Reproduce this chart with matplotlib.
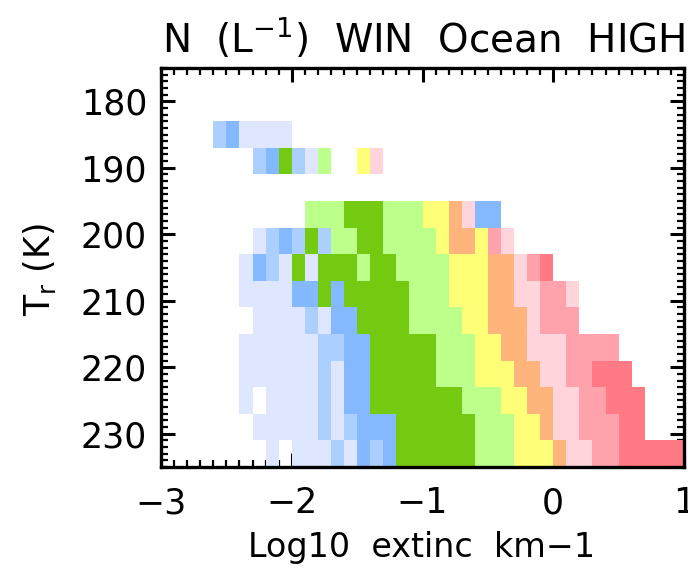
import numpy as np
import matplotlib.pyplot as plt
from matplotlib.colors import ListedColormap, BoundaryNorm
from matplotlib.ticker import MultipleLocator

plt.rcParams['font.family'] = 'DejaVu Sans'

# bin edges: log10 extinction (0.1 wide) and temperature (4 K wide)
x_edges = np.round(np.arange(-2.7, 1.0001, 0.1), 2)
t_edges = [183, 187, 191, 195, 199, 203, 207, 211, 215, 219, 223, 227, 231, 235]

# concentration class of each cell, counted from x = -2.7 (0 = no samples)
n_185 = [0, 2, 3, 1, 1, 1, 1]
n_189 = [0, 0, 0, 0, 2, 3, 4, 2, 1, 5, 0, 0, 6, 8]
n_193 = []
n_197 = [0, 0, 0, 0, 0, 0, 0, 0, 5, 5, 5, 4, 4, 4, 5, 5, 5, 6, 6, 7, 8, 3, 3]
n_201 = [0, 0, 0, 0, 1, 2, 3, 2, 4, 2, 5, 5, 4, 4, 5, 5, 5, 5, 6, 7, 7, 6, 9, 8]
n_205 = [0, 0, 0, 1, 3, 2, 1, 4, 1, 4, 4, 4, 5, 4, 4, 5, 5, 5, 5, 6, 6, 6, 7, 7,
         8, 9, 10]
n_209 = [0, 0, 0, 1, 1, 1, 1, 3, 3, 4, 3, 4, 4, 4, 4, 4, 5, 5, 5, 6, 6, 6, 7, 7,
         8, 8, 9, 9, 8]
n_213 = [0, 0, 0, 0, 1, 1, 1, 1, 2, 1, 3, 3, 4, 4, 4, 4, 5, 5, 5, 5, 6, 6, 7, 7,
         7, 8, 9, 9, 9]
n_217 = [0, 0, 0, 1, 1, 1, 1, 1, 1, 2, 2, 3, 3, 4, 4, 4, 4, 4, 5, 5, 5, 6, 6, 7,
         7, 8, 8, 8, 9, 9, 9, 9]
n_221 = [0, 0, 0, 1, 1, 1, 1, 1, 1, 2, 1, 3, 3, 4, 4, 4, 4, 4, 5, 5, 5, 6, 6, 6,
         7, 7, 8, 8, 9, 9, 10, 10, 10]
n_225 = [0, 0, 0, 1, 0, 1, 1, 1, 1, 2, 1, 3, 3, 4, 4, 4, 4, 4, 4, 4, 5, 5, 5, 6,
         6, 7, 7, 8, 8, 9, 9, 10, 10, 10]
n_229 = [0, 0, 0, 0, 1, 1, 1, 1, 1, 2, 1, 2, 3, 3, 3, 4, 4, 4, 4, 4, 4, 5, 5, 5,
         6, 6, 7, 8, 8, 9, 9, 9, 10, 10]
n_233 = [0, 0, 0, 0, 0, 1, 0, 1, 1, 1, 2, 1, 3, 2, 3, 4, 4, 4, 4, 4, 4, 5, 5, 5,
         6, 6, 6, 7, 8, 8, 9, 9, 10, 10, 10, 10, 10]

rows = [n_185, n_189, n_193, n_197, n_201, n_205, n_209, n_213, n_217,
        n_221, n_225, n_229, n_233]

level_colors = ['#dfe6ff', '#abcfff', '#85b9ff', '#74ca10', '#bcff8a',
                '#ffff78', '#ffb47c', '#ffd4da', '#ffa2ab', '#ff7a84']

ncol = len(x_edges) - 1
grid = np.zeros((len(rows), ncol))
for i, r in enumerate(rows):
    grid[i, :len(r)] = r
grid = np.ma.masked_equal(grid, 0)

cmap = ListedColormap(level_colors)
norm = BoundaryNorm(np.arange(0.5, 11.5, 1), cmap.N)

fig = plt.figure(figsize=(6.88, 5.69), dpi=100)
ax = fig.add_axes([161 / 688, 1 - 467 / 569, 523 / 688, 399 / 569])
ax.pcolormesh(x_edges, t_edges, grid, cmap=cmap, norm=norm, zorder=1)
ax.set_axisbelow(True)

ax.set_xlim(-3, 1)
ax.set_ylim(235, 175)
ax.xaxis.set_major_locator(MultipleLocator(1))
ax.xaxis.set_minor_locator(MultipleLocator(0.1))
ax.yaxis.set_major_locator(MultipleLocator(10))
ax.yaxis.set_minor_locator(MultipleLocator(1))
ax.tick_params(which='both', direction='in', top=True, right=True,
               labelsize=25, color='black')
ax.tick_params(which='major', length=10, width=2.2)
ax.tick_params(which='minor', length=5, width=1.6)
ax.tick_params(axis='x', which='major', pad=14)
ax.tick_params(axis='y', which='major', pad=10)
for s in ax.spines.values():
    s.set_linewidth(2.4)

ax.set_xticks([-3, -2, -1, 0, 1])
ax.set_xticklabels(['\u22123', '\u22122', '\u22121', '0', '1'])

fig.text(424 / 688, 1 - 52 / 569, 'N  (L$^{\\mathregular{-1}}$)  WIN  Ocean  HIGH',
         ha='center', va='baseline', fontsize=28)
fig.text(422 / 688, 1 - 557 / 569, 'Log10  extinc  km\u22121',
         ha='center', va='baseline', fontsize=24)
fig.text(40 / 688, 1 - 270 / 569, 'T$_\\mathregular{r}$ (K)', rotation=90,
         ha='center', va='center', fontsize=25)

fig.savefig('out.png', dpi=100)
